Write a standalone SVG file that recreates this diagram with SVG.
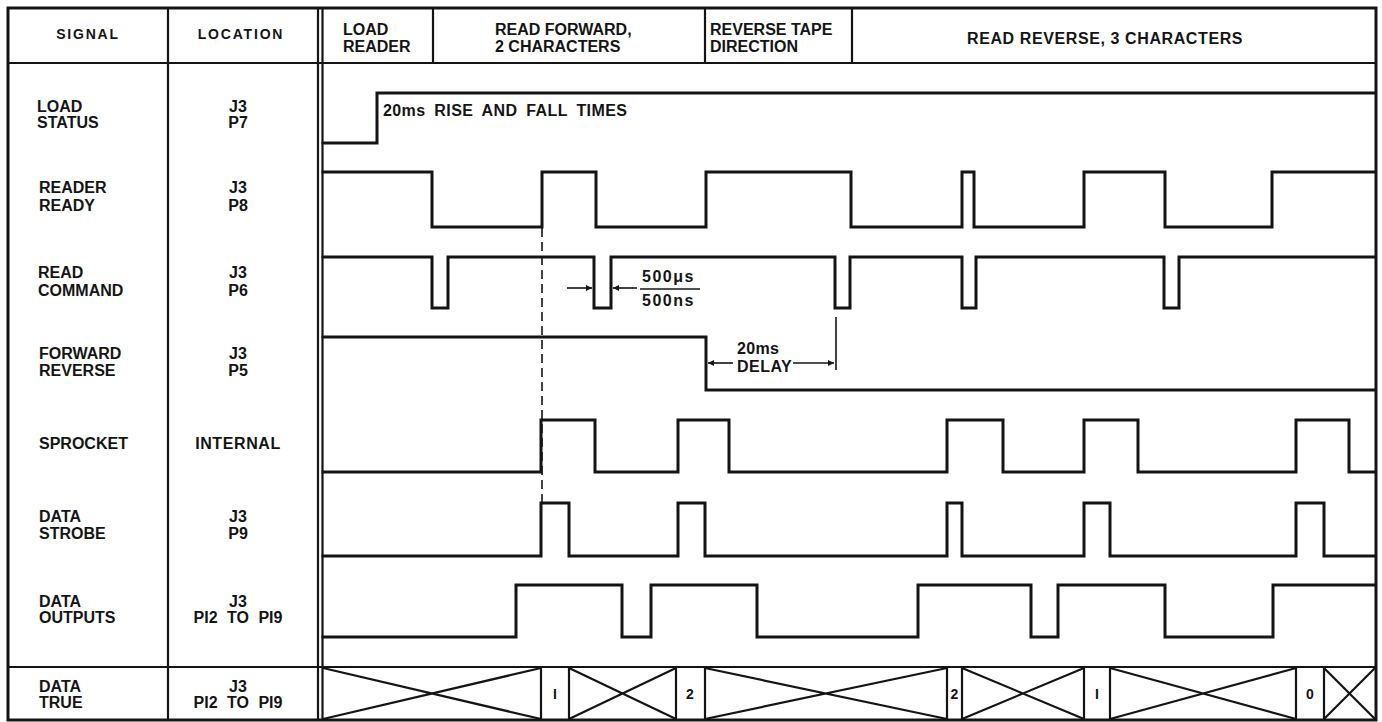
<svg xmlns="http://www.w3.org/2000/svg" width="1382" height="722" viewBox="0 0 1382 722">
<style>
text{font-family:"Liberation Sans",Arial,sans-serif;font-weight:bold;fill:#141414;font-size:16px}
.hd{font-size:14px;letter-spacing:1.8px}
.c{text-anchor:middle}
.grid{fill:none;stroke:#141414;stroke-width:2.2}
.frame{fill:none;stroke:#141414;stroke-width:3}
.wave{fill:none;stroke:#141414;stroke-width:3;stroke-linejoin:miter;stroke-linecap:square}
.thin{fill:none;stroke:#141414;stroke-width:1.6}
.dash{fill:none;stroke:#141414;stroke-width:1.6;stroke-dasharray:9 5}
.dig{font-size:14px;text-anchor:middle}
</style>
<defs>
<marker id="ah" viewBox="0 0 10 10" refX="10" refY="5" markerWidth="10" markerHeight="6" markerUnits="userSpaceOnUse" orient="auto"><path d="M0,0 L10,5 L0,10 z" fill="#141414"/></marker>
</defs>
<rect width="1382" height="722" fill="#ffffff"/>

<g id="table">
<rect class="frame" x="8" y="8" width="1368" height="712"/>
<line class="grid" x1="8" y1="63" x2="1376" y2="63"/>
<line class="grid" x1="8" y1="667" x2="1376" y2="667"/>
<line class="grid" x1="168" y1="8" x2="168" y2="720"/>
<line class="grid" x1="318" y1="8" x2="318" y2="720"/>
<line class="grid" x1="322.5" y1="8" x2="322.5" y2="720"/>
<line class="grid" x1="433" y1="8" x2="433" y2="63"/>
<line class="grid" x1="705" y1="8" x2="705" y2="63"/>
<line class="grid" x1="852" y1="8" x2="852" y2="63"/>
</g>

<g id="header">
<text class="hd c" x="88" y="39">SIGNAL</text>
<text class="hd c" x="241" y="39">LOCATION</text>
<text x="343" y="35">LOAD</text>
<text x="343" y="52">READER</text>
<text x="495" y="35">READ FORWARD,</text>
<text x="495" y="52">2 CHARACTERS</text>
<text x="710" y="35">REVERSE TAPE</text>
<text x="710" y="52">DIRECTION</text>
<text x="967" y="44" letter-spacing="0.6">READ REVERSE, 3 CHARACTERS</text>
</g>

<g id="load-status">
<text x="37" y="112">LOAD</text>
<text x="37" y="128">STATUS</text>
<text class="c" x="238" y="112">J3</text>
<text class="c" x="238" y="128">P7</text>
<path class="wave" d="M323,143 H377 V93 H1375"/>
<text x="383" y="116" word-spacing="4" letter-spacing="0.4">20ms RISE AND FALL TIMES</text>
</g>

<g id="reader-ready">
<text x="39" y="193">READER</text>
<text x="39" y="211">READY</text>
<text class="c" x="238" y="193">J3</text>
<text class="c" x="238" y="211">P8</text>
<path class="wave" d="M323,172 H432 V227 H542 V172 H596 V227 H706 V172 H851 V227 H962 V172 H974 V227 H1084 V172 H1165 V227 H1272 V172 H1375"/>
</g>

<g id="read-command">
<text x="38" y="278">READ</text>
<text x="38" y="296">COMMAND</text>
<text class="c" x="238" y="278">J3</text>
<text class="c" x="238" y="296">P6</text>
<path class="wave" d="M323,257 H432 V308 H448 V257 H594 V308 H611 V257 H835 V308 H850 V257 H962 V308 H976 V257 H1164 V308 H1179 V257 H1375"/>
<text x="642" y="282" letter-spacing="1.5">500μs</text>
<line class="thin" x1="640" y1="289" x2="700" y2="289"/>
<text x="642" y="306" letter-spacing="1.5">500ns</text>
</g>

<g id="forward-reverse">
<text x="39" y="359">FORWARD</text>
<text x="39" y="376">REVERSE</text>
<text class="c" x="238" y="359">J3</text>
<text class="c" x="238" y="376">P5</text>
<path class="wave" d="M323,337 H706 V390 H1375"/>
<text x="737" y="354" letter-spacing="0.3">20ms</text>
<text x="737" y="372" letter-spacing="0.5">DELAY</text>
</g>

<g id="sprocket">
<text x="39" y="449">SPROCKET</text>
<text class="c" x="238" y="449" letter-spacing="0.6">INTERNAL</text>
<path class="wave" d="M323,472 H541 V420 H595 V472 H678 V420 H729 V472 H947 V420 H1003 V472 H1084 V420 H1138 V472 H1296 V420 H1349 V472 H1375"/>
</g>

<g id="data-strobe">
<text x="39" y="522">DATA</text>
<text x="39" y="539">STROBE</text>
<text class="c" x="238" y="522">J3</text>
<text class="c" x="238" y="539">P9</text>
<path class="wave" d="M323,556 H541 V503 H569 V556 H678 V503 H705 V556 H947 V503 H962 V556 H1084 V503 H1110 V556 H1296 V503 H1324 V556 H1375"/>
</g>

<g id="data-outputs">
<text x="39" y="607">DATA</text>
<text x="39" y="623">OUTPUTS</text>
<text class="c" x="238" y="607">J3</text>
<text class="c" x="238" y="623" word-spacing="5">PI2 TO PI9</text>
<path class="wave" d="M323,637 H516 V585 H622 V637 H651 V585 H757 V637 H918 V585 H1031 V637 H1058 V585 H1165 V637 H1273 V585 H1375"/>
</g>

<g id="data-true">
<text x="39" y="692">DATA</text>
<text x="39" y="708">TRUE</text>
<text class="c" x="238" y="692">J3</text>
<text class="c" x="238" y="708" word-spacing="5">PI2 TO PI9</text>
<g class="grid">
<line x1="541" y1="667" x2="541" y2="720"/>
<line x1="569" y1="667" x2="569" y2="720"/>
<line x1="676" y1="667" x2="676" y2="720"/>
<line x1="705" y1="667" x2="705" y2="720"/>
<line x1="947" y1="667" x2="947" y2="720"/>
<line x1="962" y1="667" x2="962" y2="720"/>
<line x1="1084" y1="667" x2="1084" y2="720"/>
<line x1="1110" y1="667" x2="1110" y2="720"/>
<line x1="1296" y1="667" x2="1296" y2="720"/>
<line x1="1324" y1="667" x2="1324" y2="720"/>
</g>
<path class="grid" d="M323,668 L541,719 M323,719 L541,668 M569,668 L676,719 M569,719 L676,668 M705,668 L947,719 M705,719 L947,668 M962,668 L1084,719 M962,719 L1084,668 M1110,668 L1296,719 M1110,719 L1296,668 M1324,668 L1375,719 M1324,719 L1375,668"/>
<text class="dig" x="555" y="699">I</text>
<text class="dig" x="690" y="699">2</text>
<text class="dig" x="954.5" y="699">2</text>
<text class="dig" x="1097" y="699">I</text>
<text class="dig" x="1310" y="699">0</text>
</g>

<g id="connectors">
<line class="dash" x1="542" y1="228" x2="542" y2="502"/>
<line class="thin" x1="567" y1="288" x2="592" y2="288" marker-end="url(#ah)"/>
<line class="thin" x1="637" y1="288" x2="613" y2="288" marker-end="url(#ah)"/>
<line class="thin" x1="836" y1="317" x2="836" y2="370"/>
<line class="thin" x1="733" y1="363" x2="708" y2="363" marker-end="url(#ah)"/>
<line class="thin" x1="793" y1="363" x2="834" y2="363" marker-end="url(#ah)"/>
</g>
</svg>
